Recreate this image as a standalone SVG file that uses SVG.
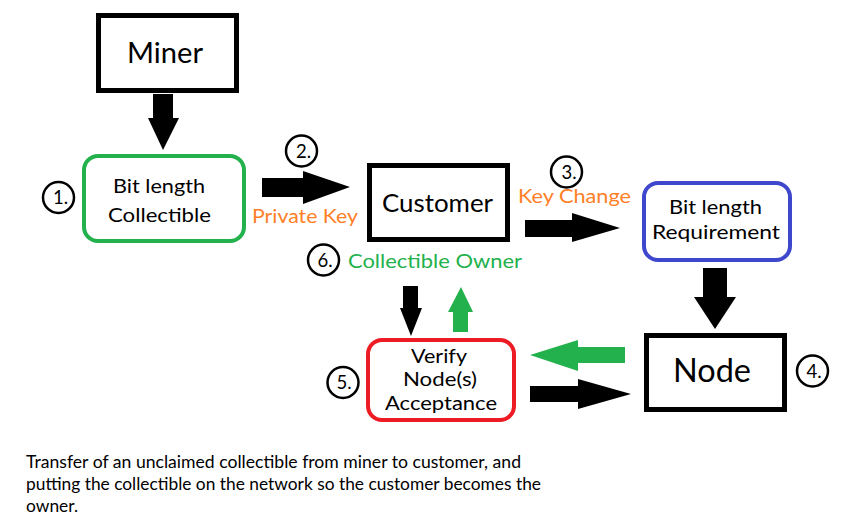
<svg xmlns="http://www.w3.org/2000/svg" width="850" height="525" viewBox="0 0 850 525">
<style>
  text { font-family: Lato, "Open Sans", "Liberation Sans", sans-serif; fill: #000; }
  .box { fill: #fff; stroke: #000; stroke-width: 5; }
  .rbox { fill: #fff; stroke-width: 4; }
  .num { fill: none; stroke: #000; stroke-width: 2.5; }
  .numt { font-size: 18.5px; text-anchor: middle; }
  .lbl { font-size: 18.5px; }
  .mid { text-anchor: middle; }
  .orange { fill: #ff7f27; }
  .green { fill: #22b14c; }
  .arrow { fill: #000; }
  .garrow { fill: #22b14c; }
  .cap { font-size: 17.5px; }
</style>
<rect width="850" height="525" fill="#fff"/>

<g id="connectors">
  <polygon class="arrow" points="153,94 173,94 173,118 179,118 163,150 148,118 153,118"/>
  <polygon class="arrow" points="262,178 303,178 303,171 350,187 303,204 303,197 262,197"/>
  <polygon class="arrow" points="525,220 572,220 572,213 620,228 572,242 572,237 525,237"/>
  <polygon class="arrow" points="703,268 727,268 727,297 736,297 715,329 694,297 703,297"/>
  <polygon class="arrow" points="403,286 418,286 418,308 422,308 411,336 400,308 403,308"/>
  <polygon class="garrow" points="453,332 468,332 468,312 473,312 461,287 448,312 453,312"/>
  <polygon class="garrow" points="625,347 578,347 578,340 530,355 578,371 578,363 625,363"/>
  <polygon class="arrow" points="530,386 578,386 578,379 631,394 578,409 578,402 530,402"/>
  <text class="lbl orange" x="252" y="223" textLength="106" lengthAdjust="spacingAndGlyphs">Private Key</text>
  <text class="lbl orange" x="518" y="203" textLength="113" lengthAdjust="spacingAndGlyphs">Key Change</text>
  <text class="lbl green" x="348" y="268" textLength="174" lengthAdjust="spacingAndGlyphs">Collectible Owner</text>
</g>

<g id="miner">
  <rect class="box" x="98.5" y="15.5" width="138" height="75"/>
  <text class="mid" x="165" y="63" font-size="28" textLength="76" lengthAdjust="spacingAndGlyphs">Miner</text>
</g>

<g id="collectible">
  <rect class="rbox" x="84" y="156" width="160" height="85" rx="14" stroke="#22b14c"/>
  <text class="lbl mid" x="159" y="193" textLength="92" lengthAdjust="spacingAndGlyphs">Bit length</text>
  <text class="lbl mid" x="159.5" y="222" textLength="103" lengthAdjust="spacingAndGlyphs">Collectible</text>
</g>

<g id="customer">
  <rect class="box" x="369.5" y="165.5" width="138" height="74"/>
  <text class="mid" x="437.5" y="212" font-size="24.5" textLength="111" lengthAdjust="spacingAndGlyphs">Customer</text>
</g>

<g id="requirement">
  <rect class="rbox" x="644" y="183" width="146" height="77" rx="14" stroke="#3f48cc"/>
  <text class="lbl mid" x="715.5" y="214" textLength="93" lengthAdjust="spacingAndGlyphs">Bit length</text>
  <text class="lbl mid" x="716" y="239" textLength="128" lengthAdjust="spacingAndGlyphs">Requirement</text>
</g>

<g id="node">
  <rect class="box" x="646.5" y="335.5" width="138" height="74"/>
  <text class="mid" x="712" y="382" font-size="32" textLength="78" lengthAdjust="spacingAndGlyphs">Node</text>
</g>

<g id="verify">
  <rect class="rbox" x="368" y="340" width="146" height="80" rx="14" stroke="#ed1c24"/>
  <text class="lbl mid" x="439" y="363" textLength="56" lengthAdjust="spacingAndGlyphs">Verify</text>
  <text class="lbl mid" x="440" y="386" textLength="74" lengthAdjust="spacingAndGlyphs">Node(s)</text>
  <text class="lbl mid" x="441" y="410" textLength="112" lengthAdjust="spacingAndGlyphs">Acceptance</text>
</g>

<g id="step1">
  <circle class="num" cx="58.5" cy="197.5" r="15.5"/>
  <text class="numt" x="60.5" y="204">1.</text>
</g>
<g id="step2">
  <circle class="num" cx="301.5" cy="151" r="15.5"/>
  <text class="numt" x="303.5" y="157.5">2.</text>
</g>
<g id="step3">
  <circle class="num" cx="566.5" cy="172" r="15.5"/>
  <text class="numt" x="569" y="178.5">3.</text>
</g>
<g id="step4">
  <circle class="num" cx="812.5" cy="371" r="15.5"/>
  <text class="numt" x="814" y="377.5">4.</text>
</g>
<g id="step5">
  <circle class="num" cx="343" cy="382.5" r="15.5"/>
  <text class="numt" x="344" y="389">5.</text>
</g>
<g id="step6">
  <circle class="num" cx="323.5" cy="260" r="15.5"/>
  <text class="numt" x="325" y="266.5">6.</text>
</g>

<g id="caption">
  <text class="cap" x="26" y="468" textLength="495" lengthAdjust="spacingAndGlyphs">Transfer of an unclaimed collectible from miner to customer, and</text>
  <text class="cap" x="26" y="490" textLength="515" lengthAdjust="spacingAndGlyphs">putting the collectible on the network so the customer becomes the</text>
  <text class="cap" x="26" y="512" textLength="52" lengthAdjust="spacingAndGlyphs">owner.</text>
</g>
</svg>
